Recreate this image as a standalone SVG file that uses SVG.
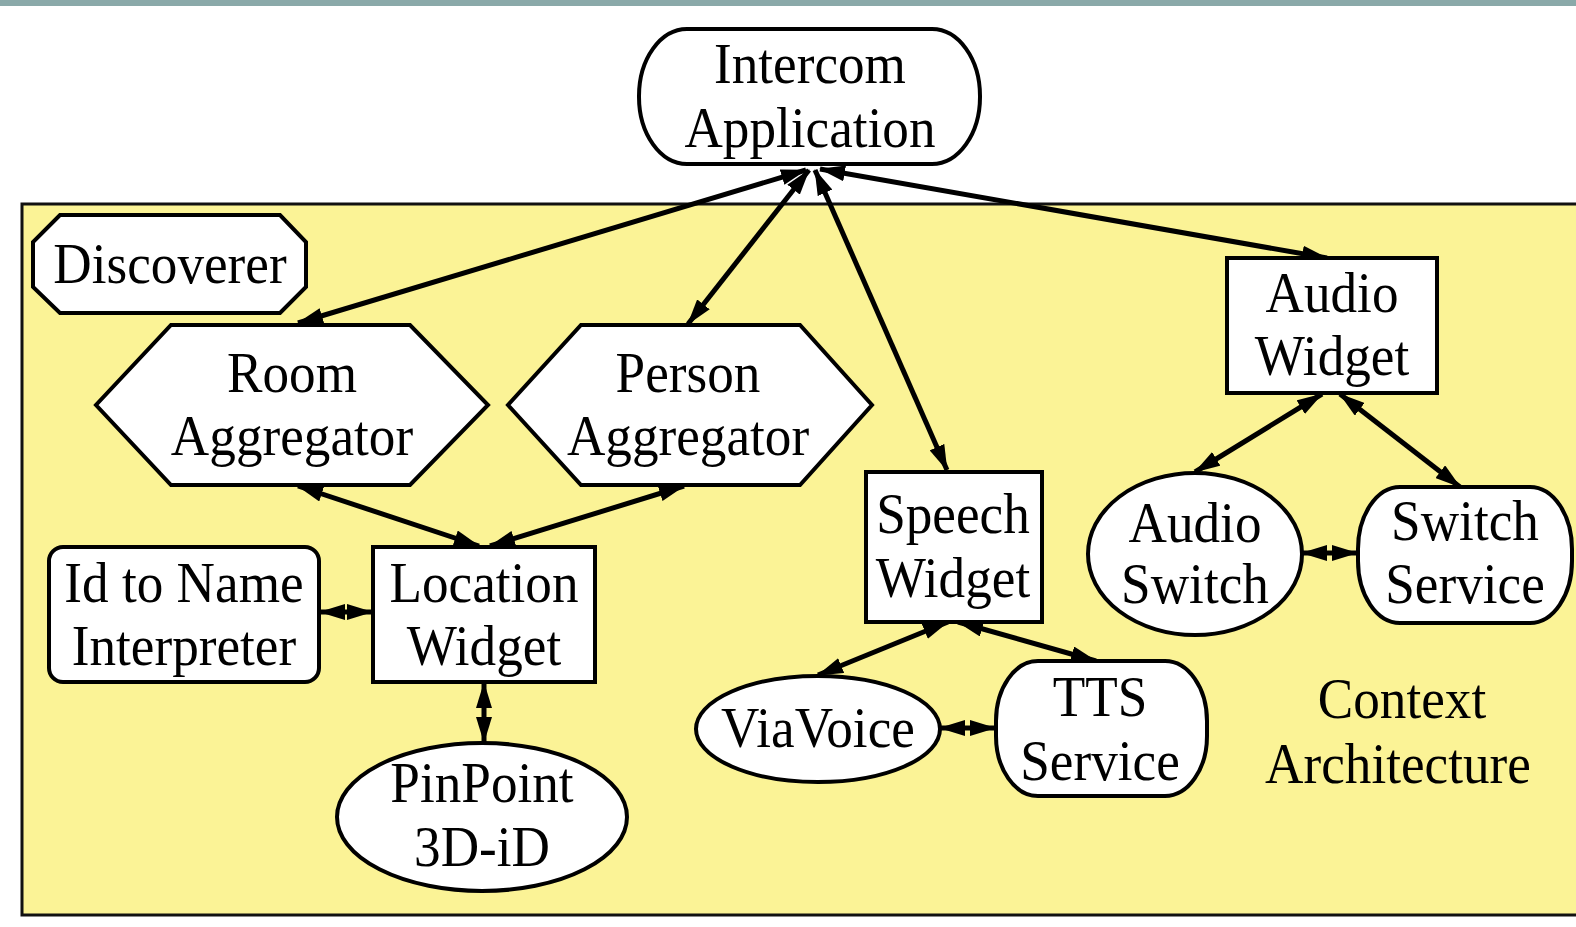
<svg xmlns="http://www.w3.org/2000/svg" width="1576" height="927" viewBox="0 0 1576 927">
<defs>
<style>
.n{fill:#fff;stroke:#000;stroke-width:4}
.t{font-family:"Liberation Serif","Times New Roman",serif;font-size:56px;fill:#000;text-anchor:middle;transform-box:fill-box;transform-origin:center;transform:scaleX(0.95)}
.e{stroke:#000;stroke-width:5;fill:none;marker-start:url(#ah);marker-end:url(#ah)}
</style>
<marker id="ah" viewBox="0 0 26 16" refX="25" refY="8" markerWidth="26" markerHeight="16" markerUnits="userSpaceOnUse" orient="auto-start-reverse">
<path d="M0,0 L26,8 L0,16 z" fill="#000"/>
</marker>
</defs>
<rect x="0" y="0" width="1576" height="927" fill="#fff"/>
<rect x="0" y="0" width="1576" height="6" fill="#8aa9a9"/>
<rect id="context" x="22" y="204" width="1570" height="711" fill="#fbf396" stroke="#111" stroke-width="3"/>
<text class="t" x="1402" y="718">Context</text>
<text class="t" x="1398" y="783">Architecture</text>

<g id="connectors">
<line class="e" x1="806" y1="170" x2="298" y2="323"/>
<line class="e" x1="809" y1="170" x2="688" y2="324"/>
<line class="e" x1="815" y1="170" x2="947" y2="470"/>
<line class="e" x1="820" y1="169" x2="1327" y2="258"/>
<line class="e" x1="298" y1="486" x2="479" y2="546"/>
<line class="e" x1="684" y1="486" x2="490" y2="546"/>
<line class="e" x1="320" y1="612" x2="372" y2="612"/>
<line class="e" x1="484" y1="683" x2="484" y2="742"/>
<line class="e" x1="948" y1="622" x2="818" y2="675"/>
<line class="e" x1="958" y1="622" x2="1096" y2="661"/>
<line class="e" x1="940" y1="728" x2="995" y2="728"/>
<line class="e" x1="1322" y1="394" x2="1195" y2="472"/>
<line class="e" x1="1340" y1="394" x2="1460" y2="487"/>
<line class="e" x1="1302" y1="553" x2="1357" y2="553"/>
</g>

<g id="intercom">
<rect class="n" x="639" y="29" width="341" height="135" rx="48" ry="67"/>
<text class="t" x="810" y="83">Intercom</text>
<text class="t" x="810" y="147">Application</text>
</g>
<g id="discoverer">
<polygon class="n" points="60,215 280,215 306,242 306,287 280,313 60,313 33,287 33,242"/>
<text class="t" x="170" y="283">Discoverer</text>
</g>
<g id="room">
<polygon class="n" points="171,325 410,325 488,405 410,485 171,485 96,405"/>
<text class="t" x="292" y="392">Room</text>
<text class="t" x="292" y="455">Aggregator</text>
</g>
<g id="person">
<polygon class="n" points="581,325 800,325 872,405 800,485 581,485 508,405"/>
<text class="t" x="688" y="392">Person</text>
<text class="t" x="688" y="455">Aggregator</text>
</g>
<g id="idname">
<rect class="n" x="49" y="547" width="270" height="135" rx="14"/>
<text class="t" x="184" y="602">Id to Name</text>
<text class="t" x="184" y="665">Interpreter</text>
</g>
<g id="location">
<rect class="n" x="373" y="547" width="222" height="135"/>
<text class="t" x="484" y="602">Location</text>
<text class="t" x="484" y="665">Widget</text>
</g>
<g id="pinpoint">
<ellipse class="n" cx="482" cy="817" rx="145" ry="74"/>
<text class="t" x="482" y="802">PinPoint</text>
<text class="t" x="482" y="866">3D-iD</text>
</g>
<g id="speech">
<rect class="n" x="866" y="472" width="176" height="150"/>
<text class="t" x="953" y="533">Speech</text>
<text class="t" x="953" y="597">Widget</text>
</g>
<g id="viavoice">
<ellipse class="n" cx="818" cy="729" rx="122" ry="53"/>
<text class="t" x="818" y="747">ViaVoice</text>
</g>
<g id="tts">
<rect class="n" x="996" y="661" width="211" height="135" rx="42" ry="60"/>
<text class="t" x="1100" y="716">TTS</text>
<text class="t" x="1100" y="780">Service</text>
</g>
<g id="audiowidget">
<rect class="n" x="1227" y="258" width="210" height="135"/>
<text class="t" x="1332" y="312">Audio</text>
<text class="t" x="1332" y="375">Widget</text>
</g>
<g id="audioswitch">
<ellipse class="n" cx="1195" cy="554" rx="107" ry="81"/>
<text class="t" x="1195" y="542">Audio</text>
<text class="t" x="1195" y="603">Switch</text>
</g>
<g id="switchservice">
<rect class="n" x="1358" y="487" width="214" height="136" rx="42" ry="62"/>
<text class="t" x="1465" y="540">Switch</text>
<text class="t" x="1465" y="603">Service</text>
</g>
</svg>
